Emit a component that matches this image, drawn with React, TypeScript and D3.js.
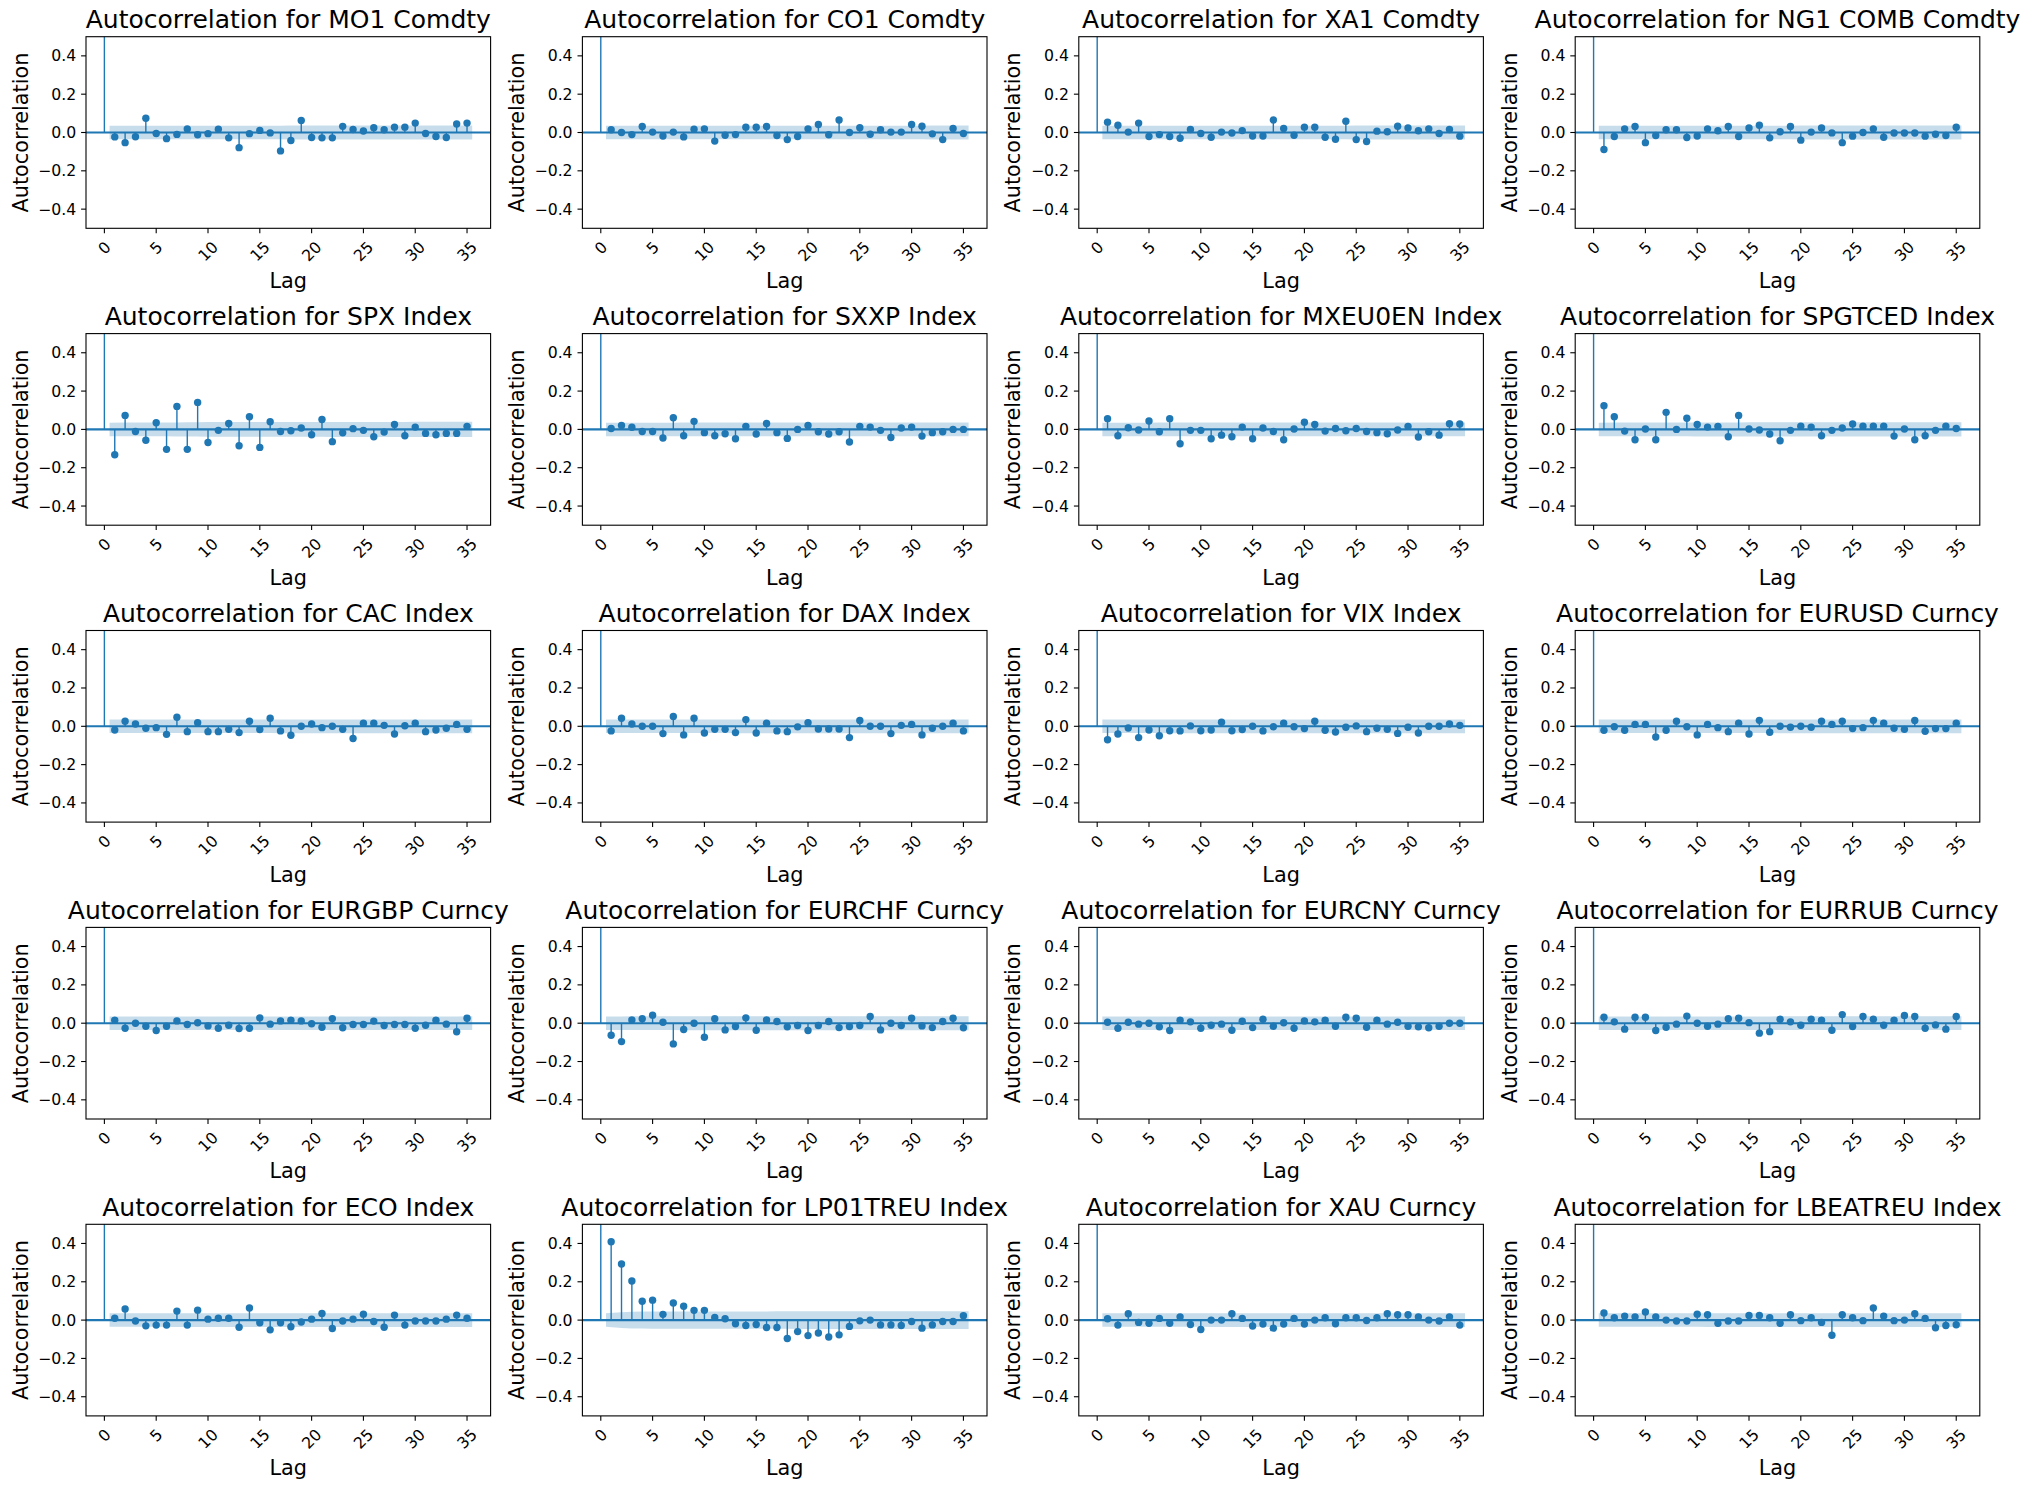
import React from 'react';
import * as d3 from 'd3';

// ---------- data ----------
const TITLES = [
  'Autocorrelation for MO1 Comdty',
  'Autocorrelation for CO1 Comdty',
  'Autocorrelation for XA1 Comdty',
  'Autocorrelation for NG1 COMB Comdty',
  'Autocorrelation for SPX Index',
  'Autocorrelation for SXXP Index',
  'Autocorrelation for MXEU0EN Index',
  'Autocorrelation for SPGTCED Index',
  'Autocorrelation for CAC Index',
  'Autocorrelation for DAX Index',
  'Autocorrelation for VIX Index',
  'Autocorrelation for EURUSD Curncy',
  'Autocorrelation for EURGBP Curncy',
  'Autocorrelation for EURCHF Curncy',
  'Autocorrelation for EURCNY Curncy',
  'Autocorrelation for EURRUB Curncy',
  'Autocorrelation for ECO Index',
  'Autocorrelation for LP01TREU Index',
  'Autocorrelation for XAU Curncy',
  'Autocorrelation for LBEATREU Index',
];

// autocorrelation at lags 1..35
const MO1 = [-0.023, -0.053, -0.022, 0.074, -0.005, -0.032, -0.01, 0.018, -0.012, -0.006, 0.017, -0.028, -0.079, -0.006, 0.011, -0.002, -0.096, -0.042, 0.063, -0.026, -0.028, -0.028, 0.032, 0.016, 0.008, 0.025, 0.014, 0.028, 0.028, 0.049, -0.005, -0.021, -0.026, 0.044, 0.049];
const CO1 = [0.014, 0.0, -0.011, 0.031, 0.002, -0.018, 0.002, -0.023, 0.017, 0.019, -0.045, -0.014, -0.011, 0.028, 0.028, 0.031, -0.016, -0.037, -0.021, 0.019, 0.042, -0.012, 0.065, 0.0, 0.025, -0.009, 0.014, 0.002, 0.002, 0.042, 0.033, -0.007, -0.037, 0.021, -0.005];
const XA1 = [0.054, 0.038, 0.002, 0.049, -0.021, -0.011, -0.021, -0.03, 0.016, -0.005, -0.025, 0.002, -0.003, 0.01, -0.018, -0.018, 0.065, 0.021, -0.014, 0.028, 0.028, -0.025, -0.035, 0.059, -0.037, -0.047, 0.007, 0.004, 0.033, 0.024, 0.009, 0.019, -0.005, 0.016, -0.019];
const NG1 = [-0.089, -0.021, 0.019, 0.031, -0.053, -0.016, 0.014, 0.014, -0.026, -0.018, 0.019, 0.009, 0.031, -0.021, 0.024, 0.038, -0.028, 0.004, 0.031, -0.04, 0.002, 0.024, -0.002, -0.053, -0.019, 0.0, 0.019, -0.025, -0.003, -0.003, -0.003, -0.019, -0.009, -0.016, 0.028];
const SPX = [-0.132, 0.073, -0.011, -0.057, 0.035, -0.104, 0.12, -0.104, 0.141, -0.068, -0.005, 0.031, -0.085, 0.066, -0.094, 0.04, -0.011, -0.007, 0.007, -0.028, 0.052, -0.064, -0.018, 0.004, -0.005, -0.038, -0.014, 0.026, -0.033, 0.012, -0.021, -0.028, -0.021, -0.021, 0.016];
const SXXP = [0.005, 0.021, 0.011, -0.011, -0.011, -0.045, 0.061, -0.033, 0.042, -0.017, -0.033, -0.023, -0.049, 0.016, -0.024, 0.031, -0.017, -0.047, 0.0, 0.021, -0.012, -0.024, -0.012, -0.066, 0.016, 0.012, -0.005, -0.042, 0.007, 0.012, -0.035, -0.017, -0.012, 0.0, 0.0];
const MXEU0EN = [0.056, -0.033, 0.009, -0.003, 0.044, -0.012, 0.056, -0.075, -0.005, -0.005, -0.049, -0.03, -0.038, 0.012, -0.049, 0.007, -0.011, -0.054, 0.002, 0.037, 0.026, -0.009, 0.005, -0.007, 0.005, -0.011, -0.017, -0.023, -0.003, 0.016, -0.04, -0.012, -0.03, 0.03, 0.028];
const SPGTCED = [0.124, 0.066, -0.009, -0.054, 0.002, -0.054, 0.089, 0.0, 0.058, 0.026, 0.012, 0.016, -0.038, 0.073, 0.002, -0.003, -0.024, -0.059, -0.005, 0.017, 0.012, -0.033, -0.005, 0.007, 0.028, 0.017, 0.017, 0.017, -0.035, 0.002, -0.054, -0.033, -0.005, 0.017, 0.005];
const CAC = [-0.019, 0.026, 0.012, -0.01, -0.007, -0.042, 0.047, -0.028, 0.019, -0.028, -0.028, -0.016, -0.033, 0.026, -0.017, 0.042, -0.024, -0.047, 0.0, 0.012, -0.007, 0.0, -0.016, -0.064, 0.016, 0.016, 0.005, -0.04, 0.003, 0.016, -0.028, -0.019, -0.01, 0.01, -0.016];
const DAX = [-0.024, 0.042, 0.012, 0.0, 0.0, -0.038, 0.051, -0.045, 0.042, -0.035, -0.016, -0.016, -0.033, 0.035, -0.035, 0.016, -0.024, -0.028, -0.003, 0.019, -0.014, -0.014, -0.014, -0.059, 0.03, 0.0, 0.0, -0.038, 0.005, 0.01, -0.045, -0.01, 0.0, 0.016, -0.024];
const VIX = [-0.07, -0.04, -0.009, -0.059, -0.019, -0.049, -0.023, -0.024, 0.002, -0.023, -0.019, 0.021, -0.023, -0.017, 0.0, -0.024, -0.002, 0.016, -0.002, -0.012, 0.026, -0.021, -0.03, -0.005, 0.002, -0.028, -0.01, -0.016, -0.037, -0.005, -0.035, 0.0, 0.0, 0.012, 0.005];
const EURUSD = [-0.021, -0.002, -0.021, 0.01, 0.01, -0.056, -0.021, 0.026, -0.002, -0.045, 0.01, -0.007, -0.028, 0.016, -0.04, 0.031, -0.031, 0.0, -0.005, 0.0, -0.005, 0.026, 0.01, 0.026, -0.012, -0.007, 0.031, 0.016, -0.01, -0.016, 0.03, -0.026, -0.012, -0.012, 0.016];
const EURGBP = [0.016, -0.026, 0.0, -0.016, -0.038, -0.016, 0.012, -0.007, 0.002, -0.014, -0.026, -0.011, -0.028, -0.026, 0.028, -0.005, 0.012, 0.016, 0.012, -0.003, -0.021, 0.024, -0.024, -0.007, -0.007, 0.011, -0.012, -0.007, -0.007, -0.026, -0.011, 0.016, -0.005, -0.045, 0.026];
const EURCHF = [-0.063, -0.096, 0.017, 0.023, 0.042, 0.005, -0.108, -0.033, 0.0, -0.073, 0.023, -0.035, -0.017, 0.028, -0.037, 0.017, 0.009, -0.019, -0.012, -0.038, -0.012, 0.009, -0.023, -0.017, -0.012, 0.035, -0.035, 0.0, -0.012, 0.026, -0.014, -0.023, 0.009, 0.026, -0.024];
const EURCNY = [0.005, -0.026, 0.005, -0.005, 0.0, -0.019, -0.038, 0.016, 0.007, -0.026, -0.011, -0.005, -0.037, 0.01, -0.023, 0.021, -0.016, 0.002, -0.026, 0.012, 0.007, 0.016, -0.016, 0.031, 0.026, -0.021, 0.016, -0.005, 0.005, -0.016, -0.019, -0.024, -0.016, 0.0, 0.0];
const EURRUB = [0.031, 0.007, -0.031, 0.031, 0.031, -0.038, -0.021, -0.005, 0.037, 0.0, -0.016, -0.005, 0.023, 0.026, 0.003, -0.052, -0.044, 0.021, 0.007, -0.011, 0.021, 0.016, -0.037, 0.045, -0.017, 0.035, 0.021, -0.011, 0.016, 0.04, 0.035, -0.026, -0.009, -0.031, 0.035];
const ECO = [0.01, 0.058, -0.005, -0.03, -0.026, -0.026, 0.047, -0.026, 0.052, 0.005, 0.01, 0.01, -0.037, 0.063, -0.014, -0.051, -0.014, -0.035, -0.01, 0.005, 0.035, -0.044, -0.005, 0.005, 0.031, -0.007, -0.037, 0.026, -0.026, -0.005, -0.005, -0.005, 0.005, 0.026, 0.01];
const LP01TREU = [0.409, 0.293, 0.204, 0.098, 0.104, 0.03, 0.089, 0.072, 0.051, 0.051, 0.014, 0.007, -0.019, -0.028, -0.023, -0.039, -0.039, -0.096, -0.06, -0.081, -0.067, -0.088, -0.077, -0.033, -0.004, 0.0, -0.025, -0.025, -0.028, -0.007, -0.042, -0.025, -0.007, -0.007, 0.023];
const XAU = [0.007, -0.026, 0.033, -0.012, -0.017, 0.009, -0.017, 0.017, -0.023, -0.049, 0.0, 0.0, 0.033, 0.009, -0.031, -0.021, -0.042, -0.021, 0.009, -0.021, 0.0, 0.012, -0.019, 0.012, 0.012, -0.002, 0.012, 0.033, 0.028, 0.028, 0.017, 0.0, -0.005, 0.017, -0.026];
const LBEATREU = [0.037, 0.012, 0.021, 0.017, 0.042, 0.017, 0.0, -0.005, -0.005, 0.031, 0.028, -0.017, -0.005, -0.005, 0.024, 0.024, 0.012, -0.017, 0.028, -0.003, 0.012, -0.012, -0.079, 0.028, 0.012, -0.003, 0.063, 0.021, -0.003, 0.0, 0.033, 0.009, -0.04, -0.028, -0.024];

const SERIES = [MO1, CO1, XA1, NG1, SPX, SXXP, MXEU0EN, SPGTCED, CAC, DAX, VIX, EURUSD, EURGBP, EURCHF, EURCNY, EURRUB, ECO, LP01TREU, XAU, LBEATREU];

const LAG_TICKS = [0, 5, 10, 15, 20, 25, 30, 35];
const Y_TICKS = [-0.4, -0.2, 0.0, 0.2, 0.4];
const N_OBS = 3100;

// ---------- layout ----------
const W = 2030;
const H = 1489;
const COL0 = 86;
const COLSTEP = 496.4;
const ROW0 = 36.7;
const ROWSTEP = 296.9;
const PW = 404.6;
const PH = 191.6;
const BLUE = '#1f77b4';
const FONT = '"DejaVu Sans", sans-serif';
const TICK_FS = 15.7;
const LABEL_FS = 20.8;
const TITLE_FS = 25;
const TICK_LEN = 4.9;
const TICK_PAD = 4.9;

const fmt = d3.format('.1f');

type PanelProps = { title: string; values: number[]; left: number; top: number; id: number };

function Panel({ title, values, left, top, id }: PanelProps) {
  const x = d3.scaleLinear().domain([-1.775, 37.275]).range([0, PW]);
  const y = d3.scaleLinear().domain([-0.5, 0.5]).range([PH, 0]);
  const n = values.length;

  // Bartlett confidence band
  let cum = 0;
  const band = values.map((v, i) => {
    const se = 1.96 * Math.sqrt((1 + 2 * cum) / N_OBS);
    cum += v * v;
    const lx = i === 0 ? 0.5 : i === n - 1 ? n + 0.5 : i + 1;
    return { lx, se };
  });
  const area = d3
    .area<{ lx: number; se: number }>()
    .x((d) => x(d.lx))
    .y0((d) => y(-d.se))
    .y1((d) => y(d.se));

  const clipId = `clip-${id}`;

  return (
    <g transform={`translate(${left},${top})`}>
      <defs>
        <clipPath id={clipId}>
          <rect x={0} y={0} width={PW} height={PH} />
        </clipPath>
      </defs>
      <g clipPath={`url(#${clipId})`}>
        <path d={area(band) || ''} fill={BLUE} fillOpacity={0.25} />
        <line x1={x(0)} x2={x(0)} y1={y(0)} y2={y(1)} stroke={BLUE} strokeWidth={1.4} />
        {values.map((v, i) => (
          <line key={`s${i}`} x1={x(i + 1)} x2={x(i + 1)} y1={y(0)} y2={y(v)} stroke={BLUE} strokeWidth={1.4} />
        ))}
        <line x1={0} x2={PW} y1={y(0)} y2={y(0)} stroke={BLUE} strokeWidth={2.1} />
        {values.map((v, i) => (
          <circle key={`m${i}`} cx={x(i + 1)} cy={y(v)} r={3.7} fill={BLUE} />
        ))}
      </g>
      <rect x={0} y={0} width={PW} height={PH} fill="none" stroke="#000" strokeWidth={1.1} />
      {/* y ticks */}
      {Y_TICKS.map((t) => (
        <g key={`yt${t}`}>
          <line x1={-TICK_LEN} x2={0} y1={y(t)} y2={y(t)} stroke="#000" strokeWidth={1.1} />
          <text
            x={-TICK_LEN - TICK_PAD}
            y={y(t)}
            textAnchor="end"
            dominantBaseline="central"
            fontSize={TICK_FS}
            fontFamily={FONT}
          >
            {fmt(t)}
          </text>
        </g>
      ))}
      {/* x ticks */}
      {LAG_TICKS.map((t) => {
        const s = String(t);
        const w = s.length * 0.636 * TICK_FS;
        const h = TICK_FS * 1.1;
        const bh = (w + h) * Math.SQRT1_2;
        const cx = x(t);
        const cy = PH + TICK_LEN + TICK_PAD + bh / 2;
        return (
          <g key={`xt${t}`}>
            <line x1={cx} x2={cx} y1={PH} y2={PH + TICK_LEN} stroke="#000" strokeWidth={1.1} />
            <text
              transform={`translate(${cx},${cy}) rotate(-45)`}
              textAnchor="middle"
              dominantBaseline="central"
              fontSize={TICK_FS}
              fontFamily={FONT}
            >
              {s}
            </text>
          </g>
        );
      })}
      <text x={PW / 2} y={-8.3} textAnchor="middle" fontSize={TITLE_FS} fontFamily={FONT}>
        {title}
      </text>
      <text x={PW / 2} y={PH + 59.4} textAnchor="middle" fontSize={LABEL_FS} fontFamily={FONT}>
        Lag
      </text>
      <text
        transform={`translate(${-58.5},${PH / 2}) rotate(-90)`}
        textAnchor="middle"
        fontSize={LABEL_FS}
        fontFamily={FONT}
      >
        Autocorrelation
      </text>
    </g>
  );
}

export default function App() {
  return (
    <svg
      width={W}
      height={H}
      viewBox={`0 0 ${W} ${H}`}
      style={{ position: 'absolute', left: 0, top: 0, background: '#fff' }}
    >
      <rect x={0} y={0} width={W} height={H} fill="#fff" />
      {SERIES.map((vals, i) => (
        <Panel
          key={i}
          id={i}
          title={TITLES[i]}
          values={vals}
          left={COL0 + (i % 4) * COLSTEP}
          top={ROW0 + Math.floor(i / 4) * ROWSTEP}
        />
      ))}
    </svg>
  );
}
